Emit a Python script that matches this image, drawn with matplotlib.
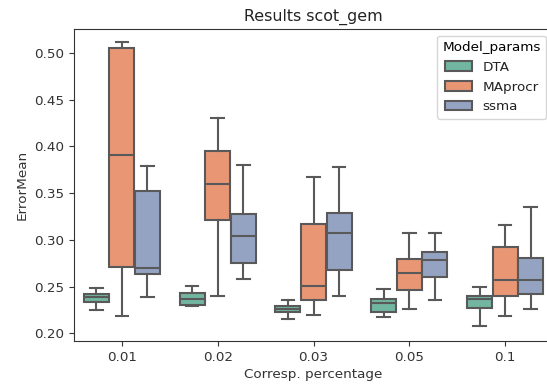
import matplotlib
matplotlib.use("Agg")
import matplotlib.pyplot as plt
import matplotlib.patches as mpatches
import numpy as np
import colorsys
from matplotlib.colors import to_rgb

categories = ["0.01", "0.02", "0.03", "0.05", "0.1"]
models = ["DTA", "MAprocr", "ssma"]

# per model: lists over categories of (whislo, q1, med, q3, whishi)
dta_lo  = [0.2246, 0.2287, 0.2153, 0.2171, 0.2081]
dta_q1  = [0.2332, 0.2300, 0.2223, 0.2228, 0.2268]
dta_med = [0.2386, 0.2368, 0.2264, 0.2321, 0.2371]
dta_q3  = [0.2421, 0.2435, 0.2293, 0.2371, 0.2400]
dta_hi  = [0.2482, 0.2510, 0.2357, 0.2469, 0.2493]

map_lo  = [0.2185, 0.2400, 0.2201, 0.2263, 0.2185]
map_q1  = [0.2714, 0.3214, 0.2357, 0.2464, 0.2400]
map_med = [0.3907, 0.3600, 0.2507, 0.2649, 0.2571]
map_q3  = [0.5049, 0.3946, 0.3171, 0.2793, 0.2919]
map_hi  = [0.5118, 0.4304, 0.3671, 0.3078, 0.3157]

ssma_lo  = [0.2386, 0.2582, 0.2400, 0.2357, 0.2264]
ssma_q1  = [0.2635, 0.2756, 0.2678, 0.2603, 0.2421]
ssma_med = [0.2703, 0.3046, 0.3078, 0.2785, 0.2571]
ssma_q3  = [0.3517, 0.3275, 0.3286, 0.2874, 0.2810]
ssma_hi  = [0.3785, 0.3803, 0.3779, 0.3078, 0.3350]

series = {
    "DTA": (dta_lo, dta_q1, dta_med, dta_q3, dta_hi),
    "MAprocr": (map_lo, map_q1, map_med, map_q3, map_hi),
    "ssma": (ssma_lo, ssma_q1, ssma_med, ssma_q3, ssma_hi),
}

base_colors = ["#66c2a5", "#fc8d62", "#8da0cb"]

def desaturate(c, prop):
    h, l, s = colorsys.rgb_to_hls(*to_rgb(c))
    return colorsys.hls_to_rgb(h, l, s * prop)

colors = [desaturate(c, 0.75) for c in base_colors]
lum = min(colorsys.rgb_to_hls(*c)[1] for c in colors) * 0.6
gray = (lum, lum, lum)

fig = plt.figure(figsize=(5.47, 3.89), dpi=100)
ax = fig.add_axes([74 / 547, 48 / 389, 479 / 547, 312 / 389])

n_hue = len(models)
each_w = 0.8 / n_hue
offsets = (np.arange(n_hue) - (n_hue - 1) / 2) * each_w

for j, m in enumerate(models):
    lo, q1, med, q3, hi = series[m]
    stats = []
    for i in range(len(categories)):
        stats.append(dict(whislo=lo[i], q1=q1[i], med=med[i], q3=q3[i],
                          whishi=hi[i], fliers=[]))
    pos = np.arange(len(categories)) + offsets[j]
    ax.bxp(stats, positions=pos, widths=each_w * 0.98, patch_artist=True,
           showfliers=False, manage_ticks=False,
           boxprops=dict(facecolor=colors[j], edgecolor=gray, linewidth=1.5),
           whiskerprops=dict(color=gray, linewidth=1.5),
           capprops=dict(color=gray, linewidth=1.5),
           medianprops=dict(color=gray, linewidth=1.5))

ax.set_xlim(-0.5, len(categories) - 0.5)
ax.set_ylim(0.1918, 0.5255)
ax.set_xticks(np.arange(len(categories)))
ax.set_xticklabels(categories)
ax.set_yticks(np.arange(0.20, 0.501, 0.05))
ax.set_yticklabels([f"{v:.2f}" for v in np.arange(0.20, 0.501, 0.05)])
ax.tick_params(labelsize=9.7, colors="#333333", labelcolor="#333333")
for sp in ax.spines.values():
    sp.set_color("#333333")

ax.set_xlabel("Corresp. percentage", fontsize=9.7, color="#333333", labelpad=3)
ax.set_ylabel("ErrorMean", fontsize=9.7, color="#333333")
ax.set_title("Results scot_gem", fontsize=11.4, color="#222222", pad=6)

handles = [mpatches.Patch(facecolor=colors[j], edgecolor=gray, linewidth=1.5, label=m)
           for j, m in enumerate(models)]
leg = ax.legend(handles=handles, title="Model_params", loc="upper right",
                fontsize=9.7, title_fontsize=9.7)
for t in leg.get_texts():
    t.set_color("#222222")

fig.savefig("out.png", dpi=100)
